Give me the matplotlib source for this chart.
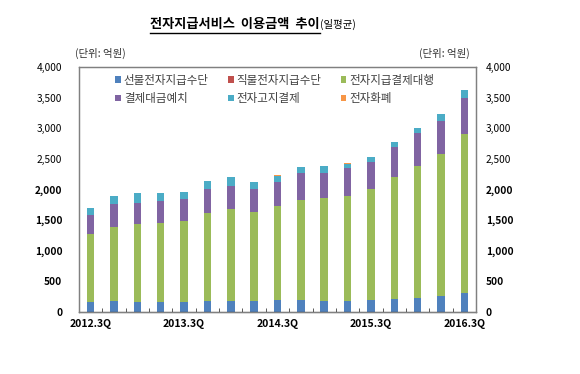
import numpy as np
import matplotlib
matplotlib.use("Agg")
import matplotlib.pyplot as plt
from matplotlib.lines import Line2D

plt.rcParams['font.family'] = ['Noto Sans CJK KR', 'DejaVu Sans']

#--------------------------------------------------------
# Data (daily average, 100 million won)
#--------------------------------------------------------
quarters = ['2012.3Q', '2012.4Q', '2013.1Q', '2013.2Q', '2013.3Q', '2013.4Q',
            '2014.1Q', '2014.2Q', '2014.3Q', '2014.4Q', '2015.1Q', '2015.2Q',
            '2015.3Q', '2015.4Q', '2016.1Q', '2016.2Q', '2016.3Q']
shown_labels = ['2012.3Q', '2013.3Q', '2014.3Q', '2015.3Q', '2016.3Q']

prepaid = [158, 174, 168, 168, 168, 179, 185, 185, 196, 196, 174, 185, 190, 212, 223, 266, 315]
debit = [1, 1, 1, 1, 1, 1, 1, 1, 1, 1, 1, 1, 1, 1, 1, 1, 1]
pg = [1118, 1216, 1260, 1277, 1315, 1434, 1499, 1450, 1526, 1635, 1684, 1716, 1820, 1999, 2167, 2309, 2592]
escrow = [310, 370, 343, 364, 353, 402, 380, 380, 402, 440, 413, 446, 440, 489, 533, 549, 581]
ebpp = [114, 130, 163, 125, 120, 125, 136, 104, 103, 92, 108, 76, 76, 76, 81, 103, 141]
emoney = [1, 1, 1, 1, 1, 1, 1, 1, 1, 1, 1, 1, 1, 1, 1, 1, 1]

series = [
    ('선불전자지급수단', prepaid, '#4F81BD'),
    ('직불전자지급수단', debit, '#C0504D'),
    ('전자지급결제대행', pg, '#9BBB59'),
    ('결제대금예치', escrow, '#8064A2'),
    ('전자고지결제', ebpp, '#4BACC6'),
    ('전자화폐', emoney, '#F79646'),
]
yticks = [0, 500, 1000, 1500, 2000, 2500, 3000, 3500, 4000]

#--------------------------------------------------------
# Plot
#--------------------------------------------------------
fig = plt.figure(figsize=(5.8, 3.74), dpi=100)
ax = fig.add_axes([79 / 580, 1 - 312 / 374, 397 / 580, 245 / 374])

x = np.arange(len(quarters))
bottom = np.zeros(len(quarters))
handles = {}
for name, vals, color in series:
    b = ax.bar(x, vals, width=0.32, bottom=bottom, color=color, label=name, linewidth=0)
    handles[name] = b
    bottom += np.array(vals)

ax.set_xlim(-0.5, len(quarters) - 0.5)
ax.set_ylim(0, 4000)

# x axis: labels every 4 quarters, small inward ticks between bars
ax.set_xticks([quarters.index(q) for q in shown_labels])
ax.set_xticklabels(shown_labels, fontsize=7.5, fontweight='bold')
ax.set_xticks(np.arange(0.5, len(quarters) - 1, 1), minor=True)
ax.tick_params(axis='x', which='major', length=0, pad=5)
ax.tick_params(axis='x', which='minor', length=3, direction='in', color='#404040')

ax2 = ax.twinx()
ax2.set_ylim(0, 4000)
for a, pad in ((ax, 12), (ax2, 7)):
    a.set_yticks(yticks)
    a.set_yticklabels([f'{v:,}' for v in yticks], fontsize=7.3)
    a.tick_params(axis='y', length=0, pad=pad)
    for lab, v in zip(a.get_yticklabels(), yticks):
        if v <= 2000:
            lab.set_fontweight('bold')

for a in (ax, ax2):
    for s in a.spines.values():
        s.set_color('#808080')
        s.set_linewidth(0.9)
ax.spines['bottom'].set_color('#303030')

order = ['선불전자지급수단', '결제대금예치', '직불전자지급수단', '전자고지결제', '전자지급결제대행', '전자화폐']
leg = ax.legend([handles[n] for n in order], order, ncol=3, frameon=False,
                loc='upper left', bbox_to_anchor=(0.065, 1.015),
                fontsize=8.3, handlelength=0.5, handleheight=0.5,
                handletextpad=0.25, columnspacing=1.65, labelspacing=0.45)
for t in leg.get_texts():
    t.set_color('#404040')

# unit labels
fig.text(75 / 580, 1 - 53 / 374, '(단위: 억원)', fontsize=7.5, va='center', ha='left', color='#303030')
fig.text(470 / 580, 1 - 53 / 374, '(단위: 억원)', fontsize=7.5, va='center', ha='right', color='#303030')

# title with underline
title = fig.text(150 / 580, 1 - 28 / 374, '전자지급서비스  이용금액  추이', fontsize=9.5,
                 fontweight='bold', ha='left', va='baseline')
fig.canvas.draw()
r = fig.canvas.get_renderer()
bb = title.get_window_extent(r).transformed(fig.transFigure.inverted())
fig.text(bb.x1, 1 - 28 / 374, '(일평균)', fontsize=7.5, ha='left', va='baseline')
fig.add_artist(Line2D([bb.x0, bb.x1], [1 - 33 / 374, 1 - 33 / 374],
                      transform=fig.transFigure, color='black', linewidth=1))

fig.savefig('out.png', dpi=100)
